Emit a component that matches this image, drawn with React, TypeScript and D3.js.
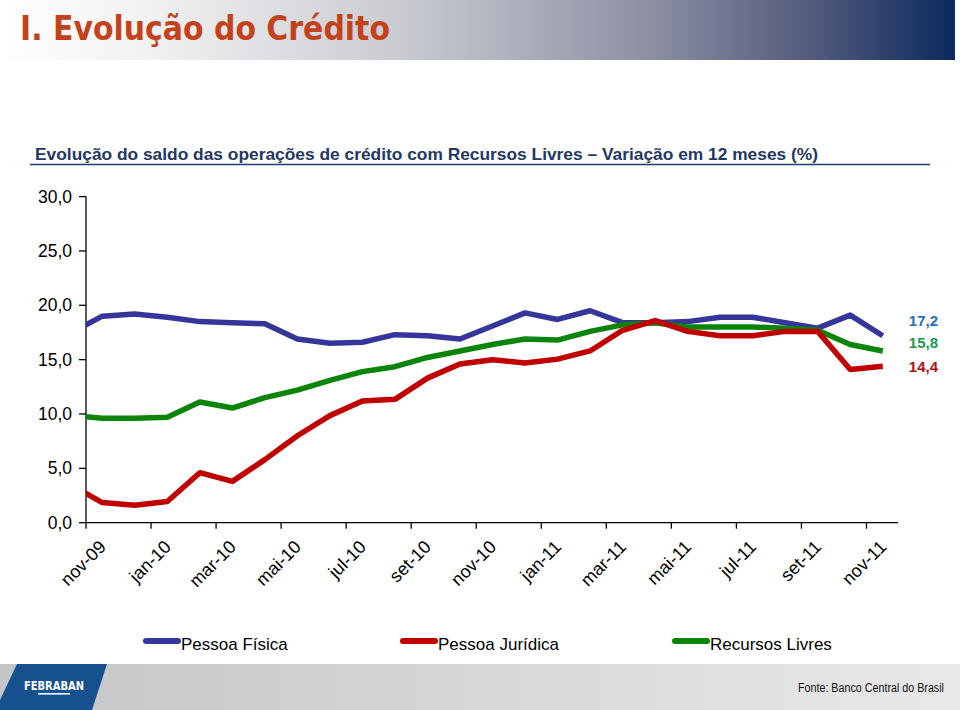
import React from "react";
import * as d3 from "d3";

const months = ["out-09","nov-09","dez-09","jan-10","fev-10","mar-10","abr-10","mai-10","jun-10","jul-10","ago-10","set-10","out-10","nov-10","dez-10","jan-11","fev-11","mar-11","abr-11","mai-11","jun-11","jul-11","ago-11","set-11","out-11","nov-11"];
const pessoaFisica = [17.4,19.0,19.2,18.9,18.5,18.4,18.3,16.9,16.5,16.6,17.3,17.2,16.9,18.1,19.3,18.7,19.5,18.4,18.4,18.5,18.9,18.9,18.4,17.9,19.1,17.2];
const pessoaJuridica = [3.55,1.85,1.6,1.95,4.6,3.8,5.8,8.0,9.85,11.2,11.35,13.3,14.6,15.0,14.7,15.05,15.8,17.7,18.6,17.6,17.2,17.2,17.6,17.6,14.1,14.4];
const recursosLivres = [9.9,9.6,9.6,9.7,11.1,10.55,11.5,12.2,13.1,13.9,14.35,15.2,15.8,16.4,16.9,16.8,17.6,18.2,18.4,18.0,18.0,18.0,17.9,17.7,16.4,15.8];
const tickLabels = ["nov-09","jan-10","mar-10","mai-10","jul-10","set-10","nov-10","jan-11","mar-11","mai-11","jul-11","set-11","nov-11"];
const yTicks = [0,5,10,15,20,25,30];
const lastLabels = ["17,2","15,8","14,4"];

const series = [
  { name: "Pessoa Física", values: pessoaFisica, color: "#36369a", label: "#1f6fc0" },
  { name: "Pessoa Jurídica", values: pessoaJuridica, color: "#c00000", label: "#b01010" },
  { name: "Recursos Livres", values: recursosLivres, color: "#0a850a", label: "#1a9a48" },
];

export default function App() {
  const W = 960, H = 710;
  const axisX0 = 86, axisX1 = 898;
  // index 0 = out-09 ; nov-09 is index 1
  const x = d3.scaleLinear().domain([0.5, 25.5]).range([axisX0, 899]);
  const y = d3.scaleLinear().domain([0, 30]).range([522.7, 196.6]);
  const line = d3.line<number>().x((_, i) => x(i)).y((v) => y(v)).curve(d3.curveLinear);

  const labelOrder = [0, 2, 1];
  const labelY = [321, 343, 367];
  const legendX = [143, 400, 672];

  return (
    <svg width={W} height={H} style={{ position: "absolute", left: 0, top: 0 }} xmlns="http://www.w3.org/2000/svg">
      <defs>
        <linearGradient id="titleGrad" x1="0" x2="1" y1="0" y2="0">
          <stop offset="0%" stopColor="#ffffff" />
          <stop offset="15%" stopColor="#f2f2f3" />
          <stop offset="42%" stopColor="#c9cbd1" />
          <stop offset="68%" stopColor="#8d90a4" />
          <stop offset="85%" stopColor="#525b7c" />
          <stop offset="100%" stopColor="#0b2a5e" />
        </linearGradient>
        <linearGradient id="footGrad" x1="0" x2="1" y1="0" y2="0">
          <stop offset="0%" stopColor="#c4c5c7" />
          <stop offset="100%" stopColor="#e9e9ea" />
        </linearGradient>
        <clipPath id="plotClip">
          <rect x={axisX0} y={150} width={axisX1 - axisX0 + 2} height={380} />
        </clipPath>
      </defs>
      <rect x={0} y={0} width={W} height={H} fill="#ffffff" />

      {/* Title bar */}
      <rect x={0} y={0} width={955} height={60} fill="url(#titleGrad)" />
      <text x={20} y={40} fontFamily="'DejaVu Sans Condensed', 'DejaVu Sans'" fontWeight="bold" fontSize={34}
        fill="#c4421b" textLength={370} lengthAdjust="spacingAndGlyphs">I. Evolução do Crédito</text>

      {/* Subtitle */}
      <text x={35} y={160} fontFamily="'Liberation Sans', Arial" fontWeight="bold" fontSize={16.5} fill="#1f3864"
        textLength={783} lengthAdjust="spacingAndGlyphs">
        Evolução do saldo das operações de crédito com Recursos Livres – Variação em 12 meses (%)
      </text>
      <line x1={30} x2={930} y1={164.5} y2={164.5} stroke="#1f3c6e" strokeWidth={1.5} />

      {/* Y axis */}
      <line x1={axisX0} x2={axisX0} y1={y(30)} y2={y(0)} stroke="#000" strokeWidth={1.3} />
      {yTicks.map((t) => (
        <g key={t}>
          <line x1={axisX0 - 7} x2={axisX0} y1={y(t)} y2={y(t)} stroke="#000" strokeWidth={1.3} />
          <text x={72} y={y(t)} dy="0.35em" textAnchor="end" fontFamily="'Liberation Sans', Arial" fontSize={17.5} fill="#000">
            {d3.format(".1f")(t).replace(".", ",")}
          </text>
        </g>
      ))}

      {/* X axis */}
      <line x1={axisX0} x2={axisX1} y1={y(0)} y2={y(0)} stroke="#000" strokeWidth={1.3} />
      {tickLabels.map((lab, k) => {
        const tx = x(1 + 2 * k - 0.5);
        return (
          <g key={lab}>
            <line x1={tx} x2={tx} y1={y(0)} y2={y(0) + 6} stroke="#000" strokeWidth={1.3} />
            <text transform={`translate(${tx + 21},${548}) rotate(-45)`} textAnchor="end"
              fontFamily="'Liberation Sans', Arial" fontSize={18} fill="#000">{lab}</text>
          </g>
        );
      })}

      {/* Lines */}
      <g clipPath="url(#plotClip)">
        {[0, 2, 1].map((si) => (
          <path key={series[si].name} d={line(series[si].values) || ""} fill="none" stroke={series[si].color}
            strokeWidth={5.5} strokeLinejoin="round" />
        ))}
      </g>

      {/* End labels */}
      {labelOrder.map((si, k) => (
        <text key={si} x={938} y={labelY[k]} dy="0.35em" textAnchor="end" fontFamily="'Liberation Sans', Arial"
          fontWeight="bold" fontSize={15} fill={series[si].label}>{lastLabels[k]}</text>
      ))}

      {/* Legend */}
      {series.map((s, i) => (
        <g key={s.name}>
          <line x1={legendX[i] + 3} x2={legendX[i] + 35} y1={641} y2={641} stroke={s.color} strokeWidth={6} strokeLinecap="round" />
          <text x={legendX[i] + 38} y={649.5} fontFamily="'Liberation Sans', Arial" fontSize={17} fill="#000">{s.name}</text>
        </g>
      ))}

      {/* Footer */}
      <rect x={0} y={664} width={W} height={46} fill="url(#footGrad)" />
      <polygon points="17,664 107,664 92,710 0,710 0,700" fill="#16508f" />
      <text x={24} y={690} fontFamily="'DejaVu Sans Condensed', 'DejaVu Sans'" fontWeight="bold" fontSize={12.5}
        fill="#ffffff" textLength={60} lengthAdjust="spacingAndGlyphs">FEBRABAN</text>
      <rect x={38} y={693} width={32} height={1.6} fill="#ffffff" />
      <text x={944} y={691.5} textAnchor="end" fontFamily="'Liberation Sans Narrow', 'Liberation Sans', Arial" fontSize={12}
        fill="#111" textLength={146} lengthAdjust="spacingAndGlyphs">Fonte: Banco Central do Brasil</text>
    </svg>
  );
}
